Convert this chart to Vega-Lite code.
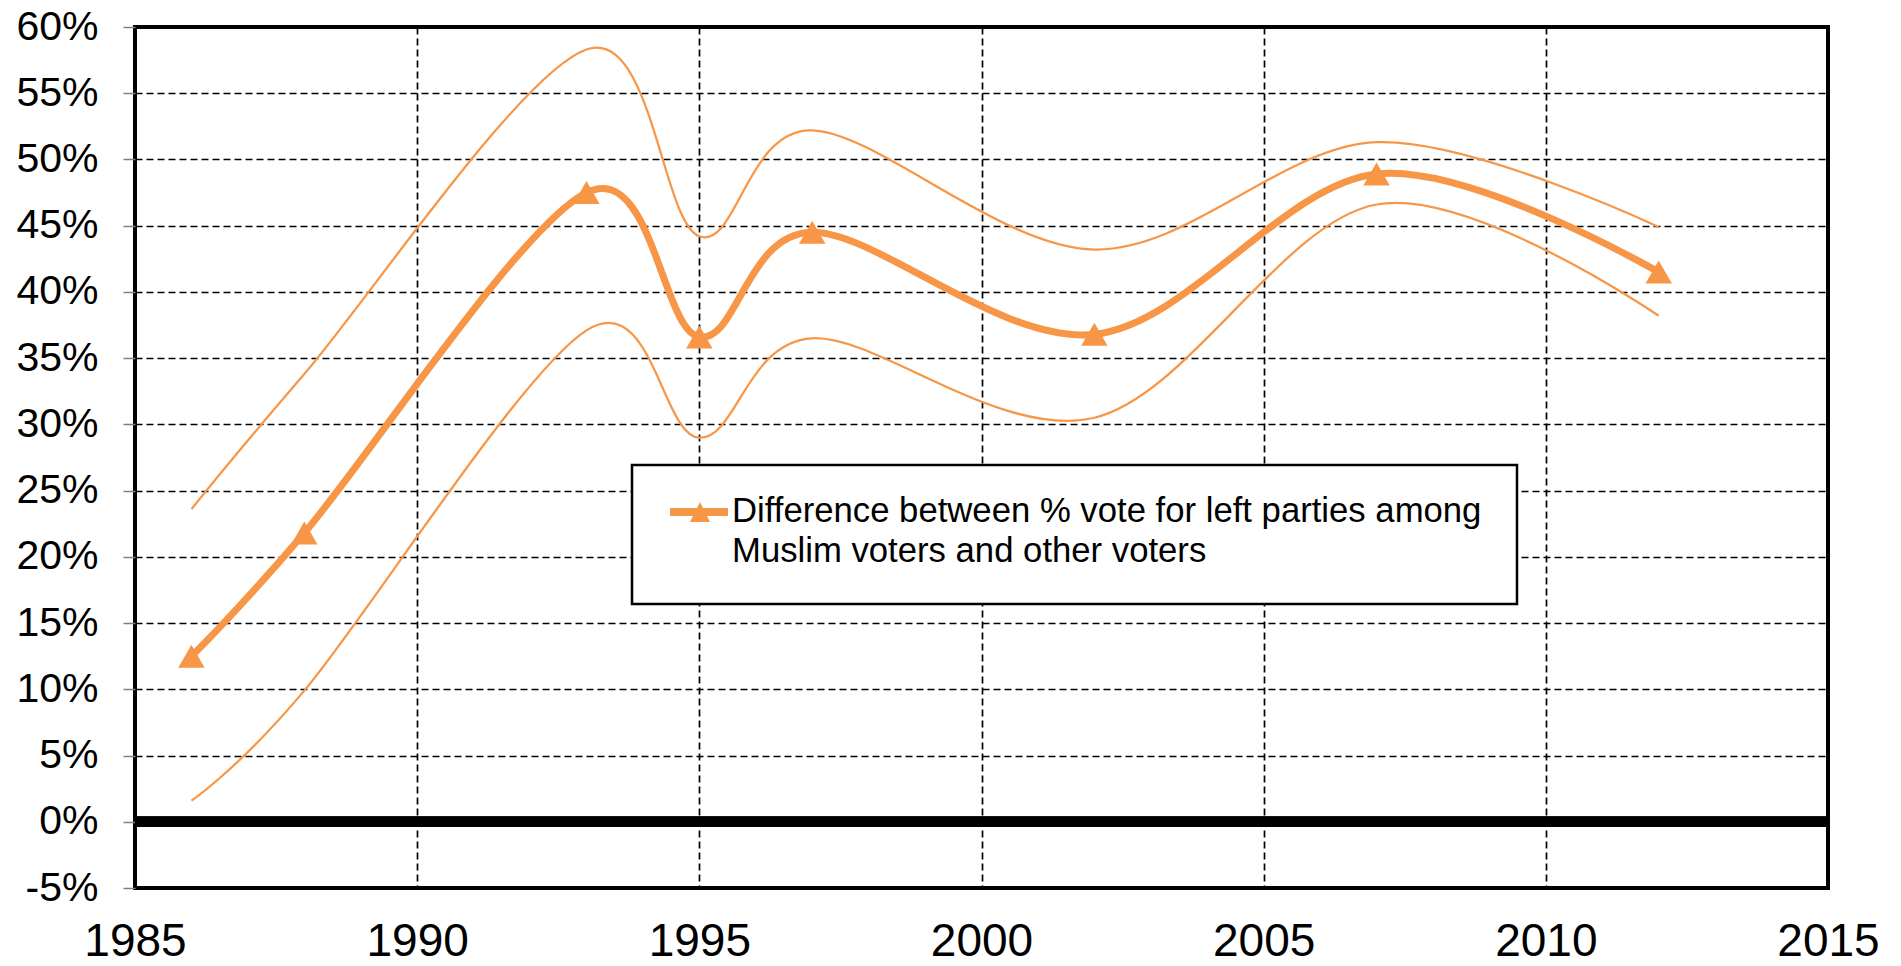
{
  "$schema": "https://vega.github.io/schema/vega-lite/v6.json",
  "autosize": {"type": "none"},
  "width": 1693,
  "height": 861,
  "padding": {"left": 135, "top": 27, "right": 73, "bottom": 78},
  "background": "white",
  "config": {
    "font": "Liberation Sans",
    "view": {"stroke": "black", "strokeWidth": 4},
    "axis": {"grid": true, "gridColor": "black", "gridDash": [7, 4], "gridWidth": 1.7, "gridOpacity": 1, "domain": false, "labelColor": "black", "labelFont": "Liberation Sans", "title": null},
    "style": {"guide-label": {"lineHeight": 40}}
  },
  "data": {
    "values": [
      {"year": 1986, "diff": 0.125, "lo": 0.016, "hi": 0.236},
      {"year": 1988, "diff": 0.218, "lo": 0.099, "hi": 0.338},
      {"year": 1993, "diff": 0.475, "lo": 0.371, "hi": 0.583},
      {"year": 1995, "diff": 0.366, "lo": 0.290, "hi": 0.442},
      {"year": 1997, "diff": 0.445, "lo": 0.365, "hi": 0.522},
      {"year": 2002, "diff": 0.368, "lo": 0.305, "hi": 0.432},
      {"year": 2007, "diff": 0.489, "lo": 0.466, "hi": 0.513},
      {"year": 2012, "diff": 0.415, "lo": 0.382, "hi": 0.449}
    ]
  },
  "layer": [
    {
      "mark": {"type": "line", "interpolate": "cardinal", "color": "#F79646", "strokeWidth": 2.25},
      "encoding": {
        "x": {"field": "year", "type": "quantitative",
              "scale": {"domain": [1985, 2015], "nice": false, "zero": false},
              "axis": {"values": [1985, 1990, 1995, 2000, 2005, 2010, 2015], "format": "d", "labelFontSize": 46, "ticks": false, "labelPadding": 31, "labelFlush": false}},
        "y": {"field": "hi", "type": "quantitative",
              "scale": {"domain": [-0.05, 0.6], "nice": false, "zero": false},
              "axis": {"values": [-0.05, 0, 0.05, 0.1, 0.15, 0.2, 0.25, 0.3, 0.35, 0.4, 0.45, 0.5, 0.55, 0.6],
                       "labelExpr": "(datum.value < -0.001 ? '-' : '') + format(abs(datum.value) * 100, '.0f') + '%'",
                       "labelFontSize": 41, "ticks": true, "tickColor": "#808080", "tickSize": 12, "tickWidth": 1.5, "labelPadding": 25}}
      }
    },
    {
      "mark": {"type": "line", "interpolate": "cardinal", "color": "#F79646", "strokeWidth": 2.25},
      "encoding": {
        "x": {"field": "year", "type": "quantitative"},
        "y": {"field": "lo", "type": "quantitative"}
      }
    },
    {
      "mark": {"type": "rule", "color": "black", "strokeWidth": 10},
      "encoding": {"y": {"datum": 0, "type": "quantitative"}}
    },
    {
      "mark": {"type": "line", "interpolate": "cardinal", "color": "#F79646", "strokeWidth": 7},
      "encoding": {
        "x": {"field": "year", "type": "quantitative"},
        "y": {"field": "diff", "type": "quantitative"}
      }
    },
    {
      "mark": {"type": "point", "shape": "triangle-up", "filled": true, "size": 700, "opacity": 1},
      "encoding": {
        "x": {"field": "year", "type": "quantitative"},
        "y": {"field": "diff", "type": "quantitative"},
        "color": {"datum": "Difference between % vote for left parties among Muslim voters and other voters",
                  "scale": {"range": ["#F79646"]},
                  "legend": {"orient": "none", "legendX": 497, "legendY": 438, "title": null,
                             "strokeColor": "black", "fillColor": "white", "padding": 35,
                             "labelFontSize": 34.7, "labelLimit": 1000, "labelOffset": 21, "labelColor": "black",
                             "labelBaseline": "alphabetic",
                             "symbolType": "M-0.864,-0.636L1.773,-0.636L1.773,-0.273L-0.864,-0.273Z M0.045,0L0.5,-0.909L0.955,0Z",
                             "symbolSize": 1936, "symbolStrokeWidth": 0, "symbolOpacity": 1,
                             "labelExpr": "['Difference between % vote for left parties among', 'Muslim voters and other voters']",
                             "encode": {"legend": {"update": {"strokeWidth": {"value": 2.5}}}}}}
      }
    }
  ]
}
